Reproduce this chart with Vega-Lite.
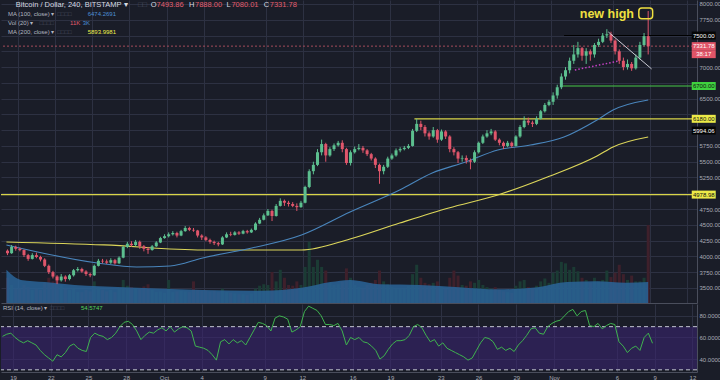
{
"$schema": "https://vega.github.io/schema/vega-lite/v6.json",
"background": "#1a1d28",
"padding": 0,
"spacing": 1,
"config": {
  "view": {"stroke": null},
  "axis": {"gridColor": "#2d3142", "labelColor": "#a9acb6", "labelFont": "Liberation Sans", "labelFontSize": 6, "ticks": false, "domainColor": "#4a4e5c", "labelOverlap": false},
  "text": {"font": "Liberation Sans"}
},
"datasets": {
"k": [
{"t":"2017-09-18T04:00","o":4090,"h":4110,"l":4020,"c":4050,"v":3.5,"r":61},
{"t":"2017-09-18T12:00","o":4050,"h":4180,"l":4040,"c":4150,"v":2.5,"r":63},
{"t":"2017-09-18T20:00","o":4150,"h":4170,"l":4090,"c":4120,"v":2.0,"r":64},
{"t":"2017-09-19T04:00","o":4120,"h":4140,"l":4080,"c":4100,"v":2.0,"r":60},
{"t":"2017-09-19T12:00","o":4100,"h":4110,"l":3990,"c":4020,"v":2.5,"r":57},
{"t":"2017-09-19T20:00","o":4020,"h":4040,"l":3930,"c":3960,"v":2.2,"r":55},
{"t":"2017-09-20T04:00","o":3960,"h":4050,"l":3950,"c":4020,"v":1.8,"r":57},
{"t":"2017-09-20T12:00","o":4020,"h":4060,"l":3970,"c":3990,"v":2.0,"r":55},
{"t":"2017-09-20T20:00","o":3990,"h":4010,"l":3920,"c":3950,"v":1.8,"r":53},
{"t":"2017-09-21T04:00","o":3950,"h":3970,"l":3830,"c":3850,"v":2.8,"r":48},
{"t":"2017-09-21T12:00","o":3850,"h":3870,"l":3720,"c":3750,"v":3.5,"r":44},
{"t":"2017-09-21T20:00","o":3750,"h":3770,"l":3650,"c":3680,"v":3.0,"r":41},
{"t":"2017-09-22T04:00","o":3680,"h":3700,"l":3560,"c":3620,"v":3.8,"r":38},
{"t":"2017-09-22T12:00","o":3620,"h":3720,"l":3600,"c":3680,"v":2.5,"r":44},
{"t":"2017-09-22T20:00","o":3680,"h":3700,"l":3600,"c":3640,"v":2.0,"r":42},
{"t":"2017-09-23T04:00","o":3640,"h":3720,"l":3620,"c":3700,"v":1.8,"r":46},
{"t":"2017-09-23T12:00","o":3700,"h":3800,"l":3680,"c":3780,"v":2.0,"r":52},
{"t":"2017-09-23T20:00","o":3780,"h":3830,"l":3760,"c":3800,"v":1.5,"r":54},
{"t":"2017-09-24T04:00","o":3800,"h":3820,"l":3740,"c":3760,"v":1.5,"r":50},
{"t":"2017-09-24T12:00","o":3760,"h":3780,"l":3690,"c":3720,"v":1.8,"r":48},
{"t":"2017-09-24T20:00","o":3720,"h":3740,"l":3670,"c":3700,"v":1.6,"r":47},
{"t":"2017-09-25T04:00","o":3700,"h":3870,"l":3690,"c":3850,"v":3.0,"r":60},
{"t":"2017-09-25T12:00","o":3850,"h":3960,"l":3840,"c":3930,"v":2.2,"r":64},
{"t":"2017-09-25T20:00","o":3930,"h":3960,"l":3890,"c":3920,"v":1.8,"r":62},
{"t":"2017-09-26T04:00","o":3920,"h":3950,"l":3880,"c":3900,"v":1.6,"r":61},
{"t":"2017-09-26T12:00","o":3900,"h":3970,"l":3880,"c":3940,"v":1.8,"r":58},
{"t":"2017-09-26T20:00","o":3940,"h":3960,"l":3870,"c":3890,"v":1.5,"r":60},
{"t":"2017-09-27T04:00","o":3890,"h":4000,"l":3880,"c":3980,"v":2.0,"r":64},
{"t":"2017-09-27T12:00","o":3980,"h":4170,"l":3970,"c":4150,"v":3.2,"r":70},
{"t":"2017-09-27T20:00","o":4150,"h":4230,"l":4130,"c":4200,"v":2.4,"r":74},
{"t":"2017-09-28T04:00","o":4200,"h":4240,"l":4150,"c":4180,"v":2.2,"r":75},
{"t":"2017-09-28T12:00","o":4180,"h":4260,"l":4160,"c":4230,"v":2.0,"r":72},
{"t":"2017-09-28T20:00","o":4230,"h":4250,"l":4120,"c":4160,"v":2.1,"r":66},
{"t":"2017-09-29T04:00","o":4160,"h":4180,"l":4080,"c":4120,"v":2.3,"r":58},
{"t":"2017-09-29T12:00","o":4120,"h":4150,"l":4040,"c":4100,"v":2.6,"r":62},
{"t":"2017-09-29T20:00","o":4100,"h":4180,"l":4090,"c":4160,"v":1.8,"r":65},
{"t":"2017-09-30T04:00","o":4160,"h":4240,"l":4150,"c":4220,"v":1.5,"r":64},
{"t":"2017-09-30T12:00","o":4220,"h":4310,"l":4210,"c":4290,"v":1.6,"r":67},
{"t":"2017-09-30T20:00","o":4290,"h":4350,"l":4280,"c":4320,"v":1.4,"r":69},
{"t":"2017-10-01T04:00","o":4320,"h":4380,"l":4300,"c":4350,"v":3.2,"r":66},
{"t":"2017-10-01T12:00","o":4350,"h":4400,"l":4330,"c":4370,"v":1.5,"r":70},
{"t":"2017-10-01T20:00","o":4370,"h":4390,"l":4300,"c":4330,"v":1.6,"r":65},
{"t":"2017-10-02T04:00","o":4330,"h":4420,"l":4320,"c":4400,"v":1.7,"r":68},
{"t":"2017-10-02T12:00","o":4400,"h":4480,"l":4390,"c":4450,"v":1.6,"r":70},
{"t":"2017-10-02T20:00","o":4450,"h":4470,"l":4400,"c":4420,"v":1.5,"r":69},
{"t":"2017-10-03T04:00","o":4420,"h":4450,"l":4390,"c":4410,"v":3.0,"r":66},
{"t":"2017-10-03T12:00","o":4410,"h":4420,"l":4300,"c":4330,"v":1.8,"r":52},
{"t":"2017-10-03T20:00","o":4330,"h":4350,"l":4260,"c":4300,"v":1.7,"r":51},
{"t":"2017-10-04T04:00","o":4300,"h":4320,"l":4240,"c":4260,"v":1.8,"r":50},
{"t":"2017-10-04T12:00","o":4260,"h":4280,"l":4200,"c":4230,"v":1.6,"r":48},
{"t":"2017-10-04T20:00","o":4230,"h":4250,"l":4180,"c":4210,"v":1.7,"r":44},
{"t":"2017-10-05T04:00","o":4210,"h":4230,"l":4160,"c":4190,"v":1.5,"r":39},
{"t":"2017-10-05T12:00","o":4190,"h":4320,"l":4180,"c":4300,"v":2.0,"r":56},
{"t":"2017-10-05T20:00","o":4300,"h":4380,"l":4290,"c":4350,"v":1.5,"r":58},
{"t":"2017-10-06T04:00","o":4350,"h":4390,"l":4320,"c":4340,"v":1.4,"r":54},
{"t":"2017-10-06T12:00","o":4340,"h":4400,"l":4330,"c":4380,"v":1.3,"r":58},
{"t":"2017-10-06T20:00","o":4380,"h":4400,"l":4340,"c":4360,"v":1.2,"r":55},
{"t":"2017-10-07T04:00","o":4360,"h":4420,"l":4350,"c":4400,"v":1.2,"r":57},
{"t":"2017-10-07T12:00","o":4400,"h":4420,"l":4360,"c":4380,"v":1.1,"r":53},
{"t":"2017-10-07T20:00","o":4380,"h":4440,"l":4370,"c":4420,"v":1.3,"r":60},
{"t":"2017-10-08T04:00","o":4420,"h":4540,"l":4410,"c":4520,"v":2.0,"r":67},
{"t":"2017-10-08T12:00","o":4520,"h":4610,"l":4510,"c":4580,"v":2.4,"r":74},
{"t":"2017-10-08T20:00","o":4580,"h":4680,"l":4570,"c":4650,"v":2.6,"r":73},
{"t":"2017-10-09T04:00","o":4650,"h":4750,"l":4640,"c":4720,"v":2.5,"r":71},
{"t":"2017-10-09T12:00","o":4720,"h":4740,"l":4560,"c":4640,"v":4.3,"r":66},
{"t":"2017-10-09T20:00","o":4640,"h":4830,"l":4630,"c":4800,"v":3.0,"r":78},
{"t":"2017-10-10T04:00","o":4800,"h":4920,"l":4790,"c":4880,"v":4.6,"r":80},
{"t":"2017-10-10T12:00","o":4880,"h":4900,"l":4800,"c":4850,"v":3.5,"r":79},
{"t":"2017-10-10T20:00","o":4850,"h":4880,"l":4790,"c":4830,"v":2.5,"r":77},
{"t":"2017-10-11T04:00","o":4830,"h":4860,"l":4780,"c":4800,"v":2.4,"r":65},
{"t":"2017-10-11T12:00","o":4800,"h":4840,"l":4720,"c":4780,"v":3.0,"r":67},
{"t":"2017-10-11T20:00","o":4780,"h":4880,"l":4770,"c":4850,"v":2.5,"r":70},
{"t":"2017-10-12T04:00","o":4850,"h":5120,"l":4840,"c":5100,"v":5.0,"r":84},
{"t":"2017-10-12T12:00","o":5100,"h":5380,"l":5080,"c":5350,"v":8.5,"r":89},
{"t":"2017-10-12T20:00","o":5350,"h":5500,"l":5300,"c":5450,"v":5.0,"r":87},
{"t":"2017-10-13T04:00","o":5450,"h":5700,"l":5430,"c":5650,"v":6.0,"r":85},
{"t":"2017-10-13T12:00","o":5650,"h":5850,"l":5600,"c":5780,"v":5.0,"r":80},
{"t":"2017-10-13T20:00","o":5780,"h":5800,"l":5500,"c":5600,"v":4.5,"r":72},
{"t":"2017-10-14T04:00","o":5600,"h":5730,"l":5580,"c":5700,"v":2.8,"r":72},
{"t":"2017-10-14T12:00","o":5700,"h":5790,"l":5670,"c":5760,"v":2.5,"r":71},
{"t":"2017-10-14T20:00","o":5760,"h":5830,"l":5740,"c":5800,"v":2.6,"r":73},
{"t":"2017-10-15T04:00","o":5800,"h":5840,"l":5650,"c":5700,"v":3.0,"r":66},
{"t":"2017-10-15T12:00","o":5700,"h":5720,"l":5450,"c":5480,"v":4.8,"r":53},
{"t":"2017-10-15T20:00","o":5480,"h":5680,"l":5440,"c":5650,"v":3.5,"r":60},
{"t":"2017-10-16T04:00","o":5650,"h":5740,"l":5630,"c":5700,"v":2.5,"r":58},
{"t":"2017-10-16T12:00","o":5700,"h":5780,"l":5680,"c":5720,"v":2.2,"r":60},
{"t":"2017-10-16T20:00","o":5720,"h":5750,"l":5640,"c":5680,"v":2.0,"r":56},
{"t":"2017-10-17T04:00","o":5680,"h":5700,"l":5590,"c":5620,"v":2.5,"r":55},
{"t":"2017-10-17T12:00","o":5620,"h":5640,"l":5520,"c":5550,"v":2.8,"r":52},
{"t":"2017-10-17T20:00","o":5550,"h":5570,"l":5400,"c":5450,"v":3.2,"r":48},
{"t":"2017-10-18T04:00","o":5450,"h":5470,"l":5150,"c":5350,"v":4.5,"r":40},
{"t":"2017-10-18T12:00","o":5350,"h":5450,"l":5300,"c":5420,"v":3.0,"r":43},
{"t":"2017-10-18T20:00","o":5420,"h":5580,"l":5400,"c":5550,"v":2.6,"r":49},
{"t":"2017-10-19T04:00","o":5550,"h":5630,"l":5530,"c":5600,"v":2.2,"r":54},
{"t":"2017-10-19T12:00","o":5600,"h":5710,"l":5580,"c":5680,"v":2.0,"r":57},
{"t":"2017-10-19T20:00","o":5680,"h":5730,"l":5650,"c":5700,"v":2.0,"r":57},
{"t":"2017-10-20T04:00","o":5700,"h":5750,"l":5680,"c":5720,"v":2.0,"r":58},
{"t":"2017-10-20T12:00","o":5720,"h":5780,"l":5700,"c":5750,"v":2.4,"r":62},
{"t":"2017-10-20T20:00","o":5750,"h":6020,"l":5740,"c":5990,"v":4.0,"r":70},
{"t":"2017-10-21T04:00","o":5990,"h":6180,"l":5970,"c":6100,"v":5.3,"r":72},
{"t":"2017-10-21T12:00","o":6100,"h":6150,"l":6000,"c":6050,"v":3.5,"r":69},
{"t":"2017-10-21T20:00","o":6050,"h":6080,"l":5900,"c":5950,"v":2.8,"r":62},
{"t":"2017-10-22T04:00","o":5950,"h":5980,"l":5850,"c":5900,"v":2.6,"r":56},
{"t":"2017-10-22T12:00","o":5900,"h":6050,"l":5880,"c":6000,"v":2.8,"r":58},
{"t":"2017-10-22T20:00","o":6000,"h":6020,"l":5800,"c":5850,"v":3.0,"r":52},
{"t":"2017-10-23T04:00","o":5850,"h":6010,"l":5830,"c":5980,"v":2.2,"r":55},
{"t":"2017-10-23T12:00","o":5980,"h":6000,"l":5860,"c":5900,"v":2.0,"r":50},
{"t":"2017-10-23T20:00","o":5900,"h":5920,"l":5650,"c":5700,"v":3.5,"r":48},
{"t":"2017-10-24T04:00","o":5700,"h":5730,"l":5600,"c":5650,"v":4.5,"r":46},
{"t":"2017-10-24T12:00","o":5650,"h":5670,"l":5480,"c":5550,"v":3.8,"r":44},
{"t":"2017-10-24T20:00","o":5550,"h":5600,"l":5500,"c":5560,"v":2.5,"r":42},
{"t":"2017-10-25T04:00","o":5560,"h":5600,"l":5470,"c":5520,"v":2.4,"r":39},
{"t":"2017-10-25T12:00","o":5520,"h":5550,"l":5380,"c":5500,"v":3.0,"r":41},
{"t":"2017-10-25T20:00","o":5500,"h":5680,"l":5480,"c":5650,"v":2.8,"r":48},
{"t":"2017-10-26T04:00","o":5650,"h":5820,"l":5630,"c":5800,"v":3.2,"r":55},
{"t":"2017-10-26T12:00","o":5800,"h":5930,"l":5780,"c":5900,"v":2.5,"r":60},
{"t":"2017-10-26T20:00","o":5900,"h":6000,"l":5880,"c":5950,"v":2.2,"r":59},
{"t":"2017-10-27T04:00","o":5950,"h":6020,"l":5920,"c":5980,"v":2.0,"r":56},
{"t":"2017-10-27T12:00","o":5980,"h":6000,"l":5830,"c":5850,"v":2.2,"r":49},
{"t":"2017-10-27T20:00","o":5850,"h":5870,"l":5760,"c":5800,"v":1.8,"r":51},
{"t":"2017-10-28T04:00","o":5800,"h":5820,"l":5700,"c":5750,"v":1.6,"r":48},
{"t":"2017-10-28T12:00","o":5750,"h":5830,"l":5730,"c":5800,"v":1.5,"r":50},
{"t":"2017-10-28T20:00","o":5800,"h":5820,"l":5720,"c":5750,"v":1.4,"r":47},
{"t":"2017-10-29T04:00","o":5750,"h":5920,"l":5740,"c":5900,"v":2.4,"r":53},
{"t":"2017-10-29T12:00","o":5900,"h":6080,"l":5880,"c":6050,"v":3.0,"r":57},
{"t":"2017-10-29T20:00","o":6050,"h":6220,"l":6030,"c":6150,"v":3.2,"r":62},
{"t":"2017-10-30T04:00","o":6150,"h":6200,"l":6080,"c":6120,"v":2.2,"r":68},
{"t":"2017-10-30T12:00","o":6120,"h":6150,"l":6050,"c":6100,"v":2.0,"r":69},
{"t":"2017-10-30T20:00","o":6100,"h":6220,"l":6080,"c":6180,"v":2.4,"r":64},
{"t":"2017-10-31T04:00","o":6180,"h":6320,"l":6170,"c":6300,"v":3.0,"r":63},
{"t":"2017-10-31T12:00","o":6300,"h":6430,"l":6280,"c":6400,"v":3.4,"r":70},
{"t":"2017-10-31T20:00","o":6400,"h":6480,"l":6380,"c":6450,"v":2.8,"r":73},
{"t":"2017-11-01T04:00","o":6450,"h":6600,"l":6400,"c":6550,"v":4.2,"r":75},
{"t":"2017-11-01T12:00","o":6550,"h":6720,"l":6500,"c":6680,"v":4.5,"r":76},
{"t":"2017-11-01T20:00","o":6680,"h":6900,"l":6650,"c":6850,"v":5.7,"r":80},
{"t":"2017-11-02T04:00","o":6850,"h":7000,"l":6800,"c":6950,"v":5.5,"r":84},
{"t":"2017-11-02T12:00","o":6950,"h":7150,"l":6900,"c":7100,"v":4.6,"r":86},
{"t":"2017-11-02T20:00","o":7100,"h":7350,"l":7050,"c":7200,"v":5.0,"r":80},
{"t":"2017-11-03T04:00","o":7200,"h":7400,"l":7150,"c":7300,"v":4.4,"r":84},
{"t":"2017-11-03T12:00","o":7300,"h":7320,"l":7100,"c":7180,"v":3.5,"r":85},
{"t":"2017-11-03T20:00","o":7180,"h":7300,"l":7050,"c":7250,"v":3.2,"r":71},
{"t":"2017-11-04T04:00","o":7250,"h":7280,"l":7100,"c":7200,"v":2.8,"r":70},
{"t":"2017-11-04T12:00","o":7200,"h":7380,"l":7150,"c":7350,"v":3.5,"r":73},
{"t":"2017-11-04T20:00","o":7350,"h":7450,"l":7320,"c":7400,"v":3.0,"r":68},
{"t":"2017-11-05T04:00","o":7400,"h":7540,"l":7380,"c":7500,"v":3.2,"r":71},
{"t":"2017-11-05T12:00","o":7500,"h":7600,"l":7460,"c":7520,"v":4.5,"r":73},
{"t":"2017-11-05T20:00","o":7520,"h":7560,"l":7380,"c":7420,"v":3.6,"r":72},
{"t":"2017-11-06T04:00","o":7420,"h":7440,"l":7200,"c":7250,"v":4.2,"r":56},
{"t":"2017-11-06T12:00","o":7250,"h":7280,"l":7050,"c":7100,"v":5.3,"r":52},
{"t":"2017-11-06T20:00","o":7100,"h":7150,"l":6950,"c":7000,"v":4.0,"r":46},
{"t":"2017-11-07T04:00","o":7000,"h":7120,"l":6960,"c":7050,"v":3.2,"r":50},
{"t":"2017-11-07T12:00","o":7050,"h":7080,"l":6940,"c":6980,"v":3.8,"r":52},
{"t":"2017-11-07T20:00","o":6980,"h":7200,"l":6960,"c":7150,"v":3.0,"r":48},
{"t":"2017-11-08T04:00","o":7150,"h":7400,"l":7120,"c":7350,"v":3.0,"r":60},
{"t":"2017-11-08T12:00","o":7350,"h":7540,"l":7330,"c":7490,"v":3.5,"r":64},
{"t":"2017-11-08T20:00","o":7490,"h":7888,"l":7200,"c":7330,"v":10.8,"r":54.6}
]
},
"vconcat": [
{
  "width": 696,
  "height": 303,
  "resolve": {"scale": {"y": "independent"}},
  "layer": [
    {
      "data": {"name": "k"},
      "layer": [
        {
          "mark": {"type": "bar", "size": 3},
          "encoding": {
            "x": {"field": "t", "type": "temporal", "title": null},
            "y": {"field": "v", "type": "quantitative", "title": null, "scale": {"domain": [0, 42], "nice": false}, "axis": null},
            "color": {"condition": {"test": "datum.c >= datum.o", "value": "#1b3b34"}, "value": "#3e202b"}
          }
        },
        {
          "data": {"values": [
            {"t":"2017-09-18T02:00","m":4.6},{"t":"2017-09-19T06:00","m":3.2},{"t":"2017-09-21T05:00","m":2.9},
            {"t":"2017-09-23T14:00","m":2.5},{"t":"2017-09-27T14:00","m":2.2},{"t":"2017-10-03T22:00","m":1.8},
            {"t":"2017-10-08T17:00","m":1.7},{"t":"2017-10-11T21:00","m":2.1},{"t":"2017-10-14T05:00","m":2.9},
            {"t":"2017-10-15T19:00","m":3.2},{"t":"2017-10-18T05:00","m":2.6},{"t":"2017-10-21T10:00","m":2.5},
            {"t":"2017-10-24T14:00","m":2.2},{"t":"2017-10-27T17:00","m":1.9},{"t":"2017-10-30T22:00","m":2.2},
            {"t":"2017-11-02T07:00","m":2.9},{"t":"2017-11-04T17:00","m":3.0},{"t":"2017-11-07T01:00","m":2.8},
            {"t":"2017-11-08T20:00","m":2.9}
          ]},
          "mark": {"type": "area", "color": "#2a6498", "opacity": 0.85, "interpolate": "monotone"},
          "encoding": {
            "x": {"field": "t", "type": "temporal", "title": null},
            "y": {"field": "m", "type": "quantitative", "title": null, "axis": null}
          }
        }
      ]
    },
    {
      "layer": [
        {
          "data": {"values": [{"p": 7331.78}]},
          "mark": {"type": "rule", "color": "#b3505f", "strokeDash": [2, 2], "opacity": 0.9},
          "encoding": {"y": {"field": "p", "type": "quantitative", "title": null}}
        },
        {
          "data": {"values": [{"p": 4978.98}]},
          "mark": {"type": "rule", "color": "#d8d449", "strokeWidth": 1.2},
          "encoding": {"y": {"field": "p", "type": "quantitative", "title": null}}
        },
        {
          "data": {"values": [
            {"t0":"2017-11-02T01:12","t1":"2017-11-12T08:48","p":7500,"k":"b"},
            {"t0":"2017-11-01T23:18","t1":"2017-11-12T08:48","p":6700,"k":"g"},
            {"t0":"2017-10-20T23:36","t1":"2017-11-12T08:48","p":6180,"k":"y"}
          ]},
          "mark": {"type": "rule", "strokeWidth": 1.2},
          "encoding": {
            "x": {"field": "t0", "type": "temporal", "title": null},
            "x2": {"field": "t1"},
            "y": {"field": "p", "type": "quantitative", "title": null},
            "color": {"condition": [{"test": "datum.k=='g'", "value": "#47c947"}, {"test": "datum.k=='y'", "value": "#d8d449"}], "value": "#000000"}
          }
        },
        {
          "data": {"values": [
            {"t":"2017-09-18T02:00","p":4228},{"t":"2017-09-25T23:00","p":4181},{"t":"2017-10-03T22:00","p":4101},
            {"t":"2017-10-11T21:00","p":4101},{"t":"2017-10-15T19:00","p":4276},{"t":"2017-10-19T19:00","p":4529},
            {"t":"2017-10-23T18:00","p":4767},{"t":"2017-10-27T17:00","p":4973},{"t":"2017-10-31T17:00","p":5258},
            {"t":"2017-11-04T17:00","p":5591},{"t":"2017-11-06T00:00","p":5734},{"t":"2017-11-08T20:00","p":5892}
          ]},
          "mark": {"type": "line", "color": "#dcd65a", "strokeWidth": 1.2, "interpolate": "monotone"},
          "encoding": {
            "x": {"field": "t", "type": "temporal", "title": null},
            "y": {"field": "p", "type": "quantitative", "title": null}
          }
        },
        {
          "data": {"values": [
            {"t":"2017-09-18T02:00","p":4181},{"t":"2017-09-25T10:00","p":3895},{"t":"2017-09-28T14:00","p":3832},
            {"t":"2017-10-01T07:00","p":3848},{"t":"2017-10-03T22:00","p":3975},{"t":"2017-10-07T21:00","p":4133},
            {"t":"2017-10-11T21:00","p":4339},{"t":"2017-10-15T19:00","p":4704},{"t":"2017-10-19T19:00","p":5052},
            {"t":"2017-10-22T10:00","p":5322},{"t":"2017-10-25T03:00","p":5496},{"t":"2017-10-27T17:00","p":5686},
            {"t":"2017-10-30T08:00","p":5765},{"t":"2017-11-02T01:00","p":5892},{"t":"2017-11-04T17:00","p":6162},
            {"t":"2017-11-06T00:00","p":6320},{"t":"2017-11-08T20:00","p":6479}
          ]},
          "mark": {"type": "line", "color": "#4a86bd", "strokeWidth": 1.1, "interpolate": "monotone"},
          "encoding": {
            "x": {"field": "t", "type": "temporal", "title": null},
            "y": {"field": "p", "type": "quantitative", "title": null}
          }
        },
        {
          "data": {"name": "k"},
          "mark": {"type": "rule", "strokeWidth": 1},
          "encoding": {
            "x": {
              "field": "t", "type": "temporal", "title": null,
              "scale": {"domain": [{"year":2017,"month":"sep","date":18,"hours":1,"minutes":9},{"year":2017,"month":"nov","date":12,"hours":8,"minutes":48}], "nice": false},
              "axis": {
                "orient": "bottom", "labels": false, "grid": true, "domain": true, "ticks": false, "tickCount": 60,
                "values": [
                  {"year":2017,"month":"sep","date":19},{"year":2017,"month":"sep","date":22},{"year":2017,"month":"sep","date":25},
                  {"year":2017,"month":"sep","date":28},{"year":2017,"month":"oct","date":1},{"year":2017,"month":"oct","date":4},
                  {"year":2017,"month":"oct","date":9},{"year":2017,"month":"oct","date":12},{"year":2017,"month":"oct","date":16},
                  {"year":2017,"month":"oct","date":19},{"year":2017,"month":"oct","date":23},{"year":2017,"month":"oct","date":26},
                  {"year":2017,"month":"oct","date":29},{"year":2017,"month":"nov","date":1},{"year":2017,"month":"nov","date":6},
                  {"year":2017,"month":"nov","date":9},{"year":2017,"month":"nov","date":12}
                ]
              }
            },
            "y": {
              "field": "l", "type": "quantitative", "title": null,
              "scale": {"domain": [3261, 8063], "nice": false, "zero": false},
              "axis": {
                "orient": "right", "grid": true, "domain": true, "labelPadding": 2, "labelOverlap": false, "tickCount": 60,
                "labelExpr": "indexof([7500,7250,6750,6250,6000,5000], datum.value) >= 0 ? '' : format(datum.value, '.2f')",
                "values": [3500,3750,4000,4250,4500,4750,5000,5250,5500,5750,6000,6250,6500,6750,7000,7250,7500,7750,8000]
              }
            },
            "y2": {"field": "h"},
            "color": {"condition": {"test": "datum.c >= datum.o", "value": "#5cbf8f"}, "value": "#e0566b"}
          }
        },
        {
          "data": {"name": "k"},
          "mark": {"type": "bar", "size": 3},
          "encoding": {
            "x": {"field": "t", "type": "temporal", "title": null},
            "y": {"field": "o", "type": "quantitative", "title": null},
            "y2": {"field": "c"},
            "color": {"condition": {"test": "datum.c >= datum.o", "value": "#5cbf8f"}, "value": "#e0566b"}
          }
        },
        {
          "data": {"values": [{"t":"2017-11-05T14:54","p":7556},{"t":"2017-11-09T02:40","p":6970}]},
          "mark": {"type": "line", "color": "#c9cad3", "strokeWidth": 1},
          "encoding": {
            "x": {"field": "t", "type": "temporal", "title": null},
            "y": {"field": "p", "type": "quantitative", "title": null}
          }
        },
        {
          "data": {"values": [{"t":"2017-11-02T22:06","p":6954},{"t":"2017-11-06T11:48","p":7097}]},
          "mark": {"type": "line", "color": "#c640c6", "strokeWidth": 1.5, "strokeDash": [1.5, 2]},
          "encoding": {
            "x": {"field": "t", "type": "temporal", "title": null},
            "y": {"field": "p", "type": "quantitative", "title": null}
          }
        },
        {
          "data": {"values": [
            {"t":"2017-09-18T20:12","p":7984,"s":"Bitcoin / Dollar, 240, BITSTAMP ▾","k":"t"},
            {"t":"2017-09-28T16:24","p":7984,"s":"□□","k":"d"},
            {"t":"2017-09-29T17:06","p":7984,"s":"O","k":"t"},
            {"t":"2017-09-30T04:36","p":7984,"s":"7493.86","k":"r"},
            {"t":"2017-10-02T19:26","p":7984,"s":"H","k":"t"},
            {"t":"2017-10-03T06:51","p":7984,"s":"7888.00","k":"r"},
            {"t":"2017-10-05T19:48","p":7984,"s":"L","k":"t"},
            {"t":"2017-10-06T05:20","p":7984,"s":"7080.01","k":"r"},
            {"t":"2017-10-08T20:12","p":7984,"s":"C","k":"t"},
            {"t":"2017-10-09T07:37","p":7984,"s":"7331.78","k":"r"}
          ]},
          "mark": {"type": "text", "align": "left", "baseline": "middle", "fontSize": 7.5},
          "encoding": {
            "x": {"field": "t", "type": "temporal", "title": null},
            "y": {"field": "p", "type": "quantitative", "title": null},
            "text": {"field": "s"},
            "color": {"condition": [{"test": "datum.k=='r'", "value": "#e35d6e"}, {"test": "datum.k=='d'", "value": "#4c5160"}], "value": "#d8dbe2"}
          }
        },
        {
          "data": {"values": [
            {"t":"2017-09-18T05:00","p":7842,"s":"MA (100, close) ▾","k":"g"},
            {"t":"2017-09-22T04:12","p":7842,"s":"□□□□","k":"d"},
            {"t":"2017-09-24T15:14","p":7842,"s":"6474.2691","k":"b"},
            {"t":"2017-09-18T05:00","p":7699,"s":"Vol (20) ▾","k":"g"},
            {"t":"2017-09-20T17:54","p":7699,"s":"□□□□","k":"d"},
            {"t":"2017-09-23T05:00","p":7699,"s":"11K","k":"r"},
            {"t":"2017-09-24T05:43","p":7699,"s":"3K","k":"b"},
            {"t":"2017-09-18T05:00","p":7556,"s":"MA (200, close) ▾","k":"g"},
            {"t":"2017-09-22T04:12","p":7556,"s":"□□□□","k":"d"},
            {"t":"2017-09-24T15:14","p":7556,"s":"5893.9981","k":"y"}
          ]},
          "mark": {"type": "text", "align": "left", "baseline": "middle", "fontSize": 6},
          "encoding": {
            "x": {"field": "t", "type": "temporal", "title": null},
            "y": {"field": "p", "type": "quantitative", "title": null},
            "text": {"field": "s"},
            "color": {"condition": [{"test": "datum.k=='r'", "value": "#e35d6e"}, {"test": "datum.k=='b'", "value": "#4d8fd6"}, {"test": "datum.k=='y'", "value": "#f1ee4c"}, {"test": "datum.k=='d'", "value": "#4c5160"}], "value": "#b3b6c0"}
          }
        },
        {
          "data": {"values": [{"t":"2017-11-03T07:36","p":7842,"s":"new high"}]},
          "mark": {"type": "text", "align": "left", "baseline": "middle", "fontSize": 12.5, "fontWeight": "bold", "color": "#f0e040"},
          "encoding": {
            "x": {"field": "t", "type": "temporal", "title": null},
            "y": {"field": "p", "type": "quantitative", "title": null},
            "text": {"field": "s"}
          }
        },
        {
          "data": {"values": [{"t0":"2017-11-08T01:54","t1":"2017-11-09T04:36","p0":7764,"p1":7937}]},
          "mark": {"type": "rect", "fill": "transparent", "stroke": "#f0e040", "strokeWidth": 1.5, "cornerRadius": 3},
          "encoding": {
            "x": {"field": "t0", "type": "temporal", "title": null},
            "x2": {"field": "t1"},
            "y": {"field": "p0", "type": "quantitative", "title": null},
            "y2": {"field": "p1"}
          }
        },
        {
          "data": {"values": [
            {"p":7500,"s":"7500.00","k":"b"},
            {"p":7331.78,"s":"7331.78","k":"r"},
            {"p":7205,"s":"38:17","k":"r"},
            {"p":6700,"s":"6700.00","k":"g"},
            {"p":6180,"s":"6180.00","k":"y"},
            {"p":5994.06,"s":"5994.06","k":"b"},
            {"p":4978.98,"s":"4978.98","k":"y"}
          ]},
          "layer": [
            {
              "mark": {"type": "tick", "orient": "horizontal", "size": 24, "thickness": 8, "opacity": 1},
              "encoding": {
                "x": {"datum": {"year":2017,"month":"nov","date":13,"hours":7,"minutes":30}, "type": "temporal"},
                "y": {"field": "p", "type": "quantitative", "title": null},
                "color": {"condition": [{"test": "datum.k=='r'", "value": "#e05467"}, {"test": "datum.k=='g'", "value": "#3fd13f"}, {"test": "datum.k=='y'", "value": "#ecea48"}], "value": "#050505"}
              }
            },
            {
              "mark": {"type": "text", "align": "center", "baseline": "middle", "fontSize": 6},
              "encoding": {
                "x": {"datum": {"year":2017,"month":"nov","date":13,"hours":7,"minutes":30}, "type": "temporal"},
                "y": {"field": "p", "type": "quantitative", "title": null},
                "text": {"field": "s"},
                "color": {"condition": {"test": "datum.k=='g' || datum.k=='y'", "value": "#111111"}, "value": "#ffffff"}
              }
            }
          ]
        }
      ]
    }
  ]
},
{
  "width": 696,
  "height": 68,
  "layer": [
    {
      "data": {"values": [{"a": 30, "b": 70}]},
      "mark": {"type": "rect", "color": "#3d2474", "opacity": 0.55},
      "encoding": {
        "y": {"field": "a", "type": "quantitative", "title": null},
        "y2": {"field": "b"}
      }
    },
    {
      "data": {"values": [{"y": 70}, {"y": 30}]},
      "mark": {"type": "rule", "color": "#c4c6d2", "strokeDash": [4, 3], "strokeWidth": 1},
      "encoding": {"y": {"field": "y", "type": "quantitative", "title": null}}
    },
    {
      "data": {"name": "k"},
      "mark": {"type": "line", "color": "#3fb34f", "strokeWidth": 1},
      "encoding": {
        "x": {
          "field": "t", "type": "temporal", "title": null,
          "scale": {"domain": [{"year":2017,"month":"sep","date":18,"hours":1,"minutes":9},{"year":2017,"month":"nov","date":12,"hours":8,"minutes":48}], "nice": false},
          "axis": {
            "orient": "bottom", "grid": true, "domain": true, "ticks": false, "labelPadding": 2, "tickCount": 60,
            "labelExpr": "date(datum.value) == 1 ? timeFormat(datum.value, '%b') : '' + date(datum.value)",
            "values": [
              {"year":2017,"month":"sep","date":19},{"year":2017,"month":"sep","date":22},{"year":2017,"month":"sep","date":25},
              {"year":2017,"month":"sep","date":28},{"year":2017,"month":"oct","date":1},{"year":2017,"month":"oct","date":4},
              {"year":2017,"month":"oct","date":9},{"year":2017,"month":"oct","date":12},{"year":2017,"month":"oct","date":16},
              {"year":2017,"month":"oct","date":19},{"year":2017,"month":"oct","date":23},{"year":2017,"month":"oct","date":26},
              {"year":2017,"month":"oct","date":29},{"year":2017,"month":"nov","date":1},{"year":2017,"month":"nov","date":6},
              {"year":2017,"month":"nov","date":9},{"year":2017,"month":"nov","date":12}
            ]
          }
        },
        "y": {
          "field": "r", "type": "quantitative", "title": null,
          "scale": {"domain": [28, 91], "nice": false, "zero": false},
          "axis": {"orient": "right", "values": [40, 60, 80], "tickCount": 20, "format": ".4f", "grid": true, "domain": true, "labelPadding": 2}
        }
      }
    },
    {
      "data": {"values": [
        {"t":"2017-09-18T05:00","p":87.2,"s":"RSI (14, close) ▾","k":"g"},
        {"t":"2017-09-21T22:30","p":87.2,"s":"□□□□","k":"d"},
        {"t":"2017-09-24T09:32","p":87.2,"s":"54.5747","k":"n"}
      ]},
      "mark": {"type": "text", "align": "left", "baseline": "middle", "fontSize": 6},
      "encoding": {
        "x": {"field": "t", "type": "temporal", "title": null},
        "y": {"field": "p", "type": "quantitative", "title": null},
        "text": {"field": "s"},
        "color": {"condition": [{"test": "datum.k=='n'", "value": "#52d35a"}, {"test": "datum.k=='d'", "value": "#4c5160"}], "value": "#b3b6c0"}
      }
    }
  ]
}
]
}
